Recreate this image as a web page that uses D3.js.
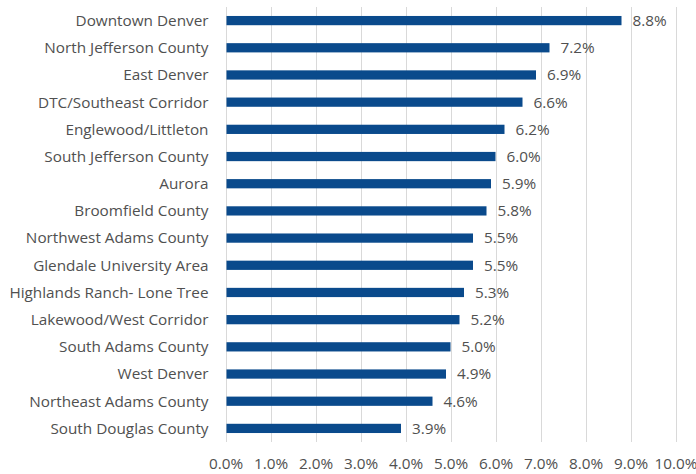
<!DOCTYPE html>
<html>
<head>
<meta charset="utf-8">
<script src="https://cdn.jsdelivr.net/npm/d3@7"></script>
<style>
    body { margin: 0; background: #fff; }
    svg { display: block; }
</style>
</head>
<body>
<div id="chart"></div>
<script>
const regions = [
    "Downtown Denver",
    "North Jefferson County",
    "East Denver",
    "DTC/Southeast Corridor",
    "Englewood/Littleton",
    "South Jefferson County",
    "Aurora",
    "Broomfield County",
    "Northwest Adams County",
    "Glendale University Area",
    "Highlands Ranch- Lone Tree",
    "Lakewood/West Corridor",
    "South Adams County",
    "West Denver",
    "Northeast Adams County",
    "South Douglas County"
];
const shares = [8.8, 7.2, 6.9, 6.6, 6.2, 6.0, 5.9, 5.8, 5.5, 5.5, 5.3, 5.2, 5.0, 4.9, 4.6, 3.9];
const xTicks = [0, 1, 2, 3, 4, 5, 6, 7, 8, 9, 10];

const width = 696, height = 474;
const margin = { top: 7, right: 20.5, bottom: 32, left: 225.5 };
const font = "'Open Sans', sans-serif";
const fontSize = 15.3;
const textColor = "#505050";

const svg = d3.select("#chart").append("svg")
    .attr("width", width)
    .attr("height", height);

const data = regions.map((r, i) => ({ region: r, value: shares[i] }));

// scales
const x = d3.scaleLinear()
    .domain([0, 10])
    .range([margin.left, width - margin.right]);

const y = d3.scaleBand()
    .domain(regions)
    .range([margin.top, height - margin.bottom])
    .paddingInner(0.66)
    .paddingOuter(0.33);

// grid
svg.append("g")
    .selectAll("line")
    .data(xTicks)
    .join("line")
    .attr("x1", d => Math.round(x(d)) + 0.5)
    .attr("x2", d => Math.round(x(d)) + 0.5)
    .attr("y1", margin.top)
    .attr("y2", height - margin.bottom)
    .attr("stroke", "#d9d9d9")
    .attr("stroke-width", 1);

// bars
svg.append("g")
    .selectAll("rect")
    .data(data)
    .join("rect")
    .attr("x", x(0) + 1)
    .attr("y", d => y(d.region))
    .attr("width", d => x(d.value) - x(0) - 1)
    .attr("height", y.bandwidth())
    .attr("fill", "#0a4a8c");

// value labels
svg.append("g")
    .selectAll("text")
    .data(data)
    .join("text")
    .attr("x", d => x(d.value) + 11)
    .attr("y", d => y(d.region) + y.bandwidth() / 2)
    .attr("dy", "0.35em")
    .attr("font-family", font)
    .attr("font-size", fontSize)
    .attr("fill", textColor)
    .text(d => d.value.toFixed(1) + "%");

// category labels
svg.append("g")
    .selectAll("text")
    .data(data)
    .join("text")
    .attr("x", margin.left - 17)
    .attr("y", d => y(d.region) + y.bandwidth() / 2)
    .attr("dy", "0.35em")
    .attr("text-anchor", "end")
    .attr("font-family", font)
    .attr("font-size", fontSize)
    .attr("fill", textColor)
    .text(d => d.region);

// x axis
const xAxis = svg.append("g")
    .attr("transform", `translate(0, ${height - margin.bottom})`)
    .call(d3.axisBottom(x).tickValues(xTicks).tickSize(0).tickPadding(0)
        .tickFormat(d => d.toFixed(1) + "%"));
xAxis.select(".domain").remove();
xAxis.selectAll("text")
    .attr("y", 22)
    .attr("dy", "0.35em")
    .attr("font-family", font)
    .attr("font-size", fontSize)
    .attr("fill", textColor);
</script>
</body>
</html>
